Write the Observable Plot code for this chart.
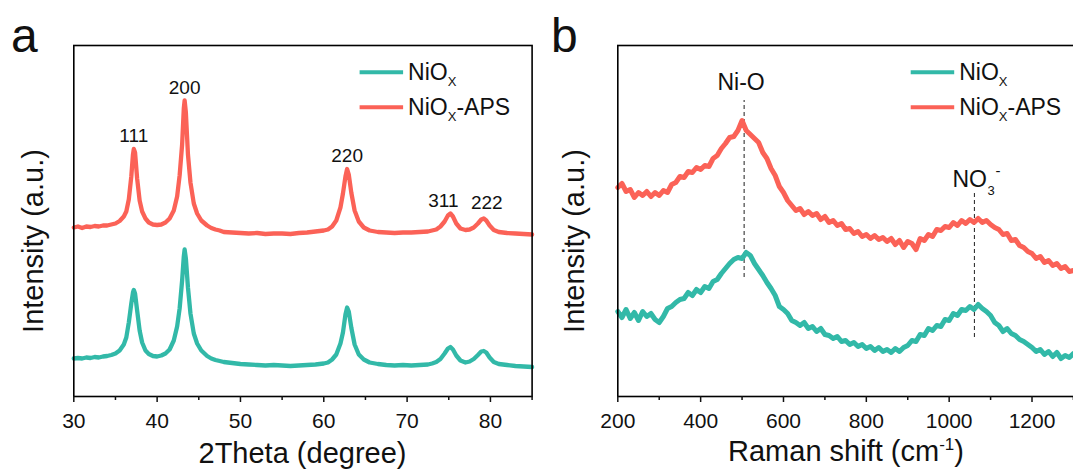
<!DOCTYPE html>
<html>
<head>
<meta charset="utf-8">
<script src="https://cdn.jsdelivr.net/npm/d3@7"></script>
<script src="https://cdn.jsdelivr.net/npm/@observablehq/plot@0.6"></script>
<style>
  body { margin: 0; background: #fff; overflow: hidden; }
  #fig { position: relative; width: 1073px; height: 473px; overflow: hidden; background: #fff; }
  .panel { position: absolute; top: 0; width: 540px; height: 473px; }
  .panel svg { display: block; overflow: visible; }
</style>
</head>
<body>
<div id="fig">
  <div class="panel" id="panelA" style="left:0"></div>
  <div class="panel" id="panelB" style="left:540px"></div>
</div>
<script>
// ---------- XRD (panel a) ----------
const xrdTheta = [
  30, 30.5, 31, 31.5, 32, 32.5, 33, 33.5, 34, 34.5,
  35, 35.5, 36, 36.3, 36.6, 36.9, 37.1, 37.2, 37.35, 37.6,
  37.9, 38.2, 38.6, 39, 39.5, 40, 40.5, 41, 41.5, 42,
  42.4, 42.7, 43, 43.2, 43.3, 43.45, 43.7, 44, 44.4, 44.8,
  45.3, 46, 46.5, 47, 47.5, 48, 49, 50, 51, 52,
  53, 54, 55, 56, 57, 58, 59, 60, 60.5, 61,
  61.5, 62, 62.3, 62.6, 62.8, 63, 63.3, 63.7, 64.2, 64.8,
  65.5, 66.5, 67.5, 68.5, 69.5, 70.5, 71.5, 72.5, 73, 73.5,
  74, 74.5, 74.9, 75.2, 75.5, 75.9, 76.4, 77, 77.5, 78,
  78.5, 78.9, 79.2, 79.5, 79.9, 80.4, 81, 82, 83, 84,
  85
];
const xrdAPS = [
  169, 170, 168.5, 170, 169.5, 170.5, 170, 171, 171, 172,
  173, 175.5, 180, 185, 197, 220, 242, 247.5, 244, 218,
  196, 185, 178, 174, 172, 171.5, 172, 174, 178, 186,
  200, 221, 252, 288, 296, 284, 242, 214, 193, 183,
  176, 171, 168.5, 167, 166, 164.5, 164, 163.5, 163, 163.5,
  162.5, 163, 163, 162.5, 163.5, 164, 165, 166, 167, 170,
  176, 189, 203, 220, 227.5, 222, 204, 186, 175, 169,
  166, 164.5, 164, 163.5, 164, 164, 164.5, 165, 166, 167,
  170, 175, 181, 183, 180, 173, 168, 166.5, 167, 169,
  173, 177, 178, 176, 171, 166.5, 164.5, 163.5, 163, 162.5,
  162
];
const xrdNiOx = [
  38, 38.5, 38, 39, 38.5, 39.5, 39, 40, 40.5, 41.5,
  43, 46, 52, 59, 74, 93, 104, 106.5, 103, 86,
  66, 54, 46, 42.5, 40.5, 40, 41, 43, 47, 56,
  70, 88, 116, 140, 147, 138, 109, 83, 63, 53,
  46, 40.5, 38, 36.5, 35.5, 34.5, 33.5, 32.5, 32, 31.5,
  31, 31.5, 31, 30.5, 31, 31.5, 32, 33, 34, 37,
  42, 53, 64, 82, 89, 85, 69, 52, 42, 37,
  34, 32.5, 31.5, 31, 31.5, 31, 31.5, 32, 33, 34.5,
  37.5, 43, 48, 49.5, 47, 41, 36, 34, 35, 37.5,
  41.5, 45, 45.5, 44, 39, 34.5, 32.5, 31.5, 30.5, 30,
  29.5
];
const xrdPeakHkl = ["111", "200", "220", "311", "222"];
const xrdPeakTheta = [37.2, 43.3, 62.8, 75.2, 79.2];
const xrdPeakTop = [247.5, 296, 227.5, 183, 178];
const xrdMajorTicks = [30, 40, 50, 60, 70, 80];
const xrdMinorTicks = [35, 45, 55, 65, 75, 85];

// ---------- Raman (panel b) ----------
const ramanShift = [
  200, 210, 220, 230, 240, 250, 260, 270, 280, 290,
  300, 310, 320, 330, 340, 350, 360, 370, 380, 390,
  400, 410, 420, 430, 440, 450, 460, 470, 480, 490,
  500, 510, 520, 530, 540, 550, 560, 570, 580, 590,
  600, 610, 620, 630, 640, 650, 660, 670, 680, 690,
  700, 710, 720, 730, 740, 750, 760, 770, 780, 790,
  800, 810, 820, 830, 840, 850, 860, 870, 880, 890,
  900, 910, 920, 930, 940, 950, 960, 970, 980, 990,
  1000, 1010, 1020, 1030, 1040, 1050, 1060, 1070, 1080, 1090,
  1100, 1110, 1120, 1130, 1140, 1150, 1160, 1170, 1180, 1190,
  1200, 1210, 1220, 1230, 1240, 1250, 1260, 1270, 1280, 1290,
  1300
];
const ramanAPS = [
  209, 213, 205, 207, 199, 204, 201, 205, 200, 204,
  201, 206, 204, 212, 214, 220, 219, 225, 224, 229,
  227, 231, 230, 238, 241, 248, 253, 259, 260, 266,
  276, 266, 262, 258, 254, 244, 238, 228, 221, 210,
  204, 196, 191, 186, 188, 182, 185, 181, 183, 177,
  180, 174, 176, 171, 173, 167, 168, 163, 165, 160,
  162, 158, 161, 157, 159, 155, 158, 152, 156, 149,
  155, 153, 147, 158, 156, 162, 160, 167, 166, 170,
  169, 174, 171, 176, 173, 177, 174, 178, 174, 176,
  172, 169, 167, 162, 163, 156, 157, 151, 149, 145,
  143, 138, 140, 134, 136, 131, 133, 128, 130, 125,
  126
];
const ramanNiOx = [
  85, 79, 87, 78, 84, 76, 85, 80, 83, 77,
  74, 80, 88, 90, 94, 97, 98, 104, 101, 107,
  104, 110, 108, 115, 117, 123, 128, 133, 137, 139,
  138, 144, 141, 133, 127, 121, 114, 108, 101, 90,
  87, 83, 76, 74, 71, 74, 68, 70, 65, 68,
  62, 61, 58, 60, 55, 56, 52, 54, 50, 52,
  48, 50, 46, 49, 45, 47, 44, 48, 45, 49,
  51, 56, 55, 62, 61, 68, 66, 71, 70, 77,
  76, 83, 81, 87, 86, 90, 87, 92, 88, 85,
  81, 74, 71, 65, 68, 63, 61, 57, 55, 52,
  49, 45, 47, 42, 45, 40, 44, 38, 41, 39,
  43
];
const ramanBandShift = [505, 1061];
const ramanBandTop = [296, 204];
const ramanBandBottom = [119, 59];
const ramanMajorTicks = [200, 400, 600, 800, 1000, 1200];
const ramanMinorTicks = [300, 500, 700, 900, 1100, 1300];

// ---------- styling ----------
const FONT = '"Liberation Sans", Arial, Helvetica, sans-serif';
const CYAN = "#32b9a8";
const RED = "#fb6257";
const INK = "#111";

const xrd = xrdTheta.map((t, i) => ({theta: t, niox: xrdNiOx[i], aps: xrdAPS[i]}));
const xrdPeaks = xrdPeakHkl.map((h, i) => ({hkl: h, theta: xrdPeakTheta[i], top: xrdPeakTop[i]}));
const raman = ramanShift.map((s, i) => ({shift: s, niox: ramanNiOx[i], aps: ramanAPS[i]}));
const bands = ramanBandShift.map((s, i) => ({shift: s, top: ramanBandTop[i], bottom: ramanBandBottom[i]}));

const svgStyle = {fontFamily: FONT, color: INK, background: "transparent", overflow: "visible"};
const fmt = d => `${d}`;

const plotA = Plot.plot({
  width: 540, height: 473,
  marginLeft: 73.3, marginRight: 8.4, marginTop: 45, marginBottom: 77,
  style: svgStyle,
  x: {domain: [30, 85], label: null},
  y: {domain: [0, 351], axis: null},
  marks: [
    Plot.line(xrd, {x: "theta", y: "aps", stroke: RED, strokeWidth: 4.3}),
    Plot.line(xrd, {x: "theta", y: "niox", stroke: CYAN, strokeWidth: 4.3}),
    Plot.text(xrdPeaks, {filter: d => d.hkl !== "311" && d.hkl !== "222", x: "theta", y: "top", text: "hkl", dy: -13, fontSize: 19, fill: INK}),
    Plot.text(xrdPeaks, {filter: d => d.hkl === "311", x: "theta", y: "top", text: "hkl", dx: -7, dy: -13, fontSize: 19, fill: INK}),
    Plot.text(xrdPeaks, {filter: d => d.hkl === "222", x: "theta", y: "top", text: "hkl", dx: 3, dy: -16, fontSize: 19, fill: INK}),
    Plot.frame({stroke: "#000", strokeWidth: 1.6}),
    Plot.axisX(xrdMajorTicks, {tickSize: 6, tickPadding: 11, tickFormat: fmt, fontSize: 21, strokeWidth: 1.5, label: null}),
    Plot.axisX(xrdMinorTicks, {tickSize: 4, tickFormat: () => "", strokeWidth: 1.5, label: null})
  ]
});

const plotB = Plot.plot({
  width: 540, height: 473,
  marginLeft: 77.3, marginRight: 5, marginTop: 45, marginBottom: 77,
  style: svgStyle,
  x: {domain: [200, 1305], label: null},
  y: {domain: [0, 351], axis: null},
  marks: [
    Plot.ruleX(bands, {x: "shift", y1: "bottom", y2: "top", stroke: "#333", strokeWidth: 1.1, strokeDasharray: "4,3"}),
    Plot.line(raman, {x: "shift", y: "aps", stroke: RED, strokeWidth: 5}),
    Plot.line(raman, {x: "shift", y: "niox", stroke: CYAN, strokeWidth: 5}),
    Plot.text(bands.slice(0, 1), {x: "shift", y: "top", text: () => "Ni-O", dx: -3, dy: -18, fontSize: 23, fill: INK}),
    Plot.text(bands.slice(1), {x: "shift", y: "top", text: () => "NO", textAnchor: "start", dx: -22, dy: -13, fontSize: 23, fill: INK}),
    Plot.text(bands.slice(1), {x: "shift", y: "top", text: () => "3", textAnchor: "start", dx: 13, dy: -2, fontSize: 13, fill: INK}),
    Plot.text(bands.slice(1), {x: "shift", y: "top", text: () => "-", textAnchor: "start", dx: 21, dy: -21, fontSize: 15, fill: INK}),
    Plot.frame({stroke: "#000", strokeWidth: 1.6}),
    Plot.axisX(ramanMajorTicks, {tickSize: 6, tickPadding: 11, tickFormat: fmt, fontSize: 21, strokeWidth: 1.5, label: null}),
    Plot.axisX(ramanMinorTicks, {tickSize: 4, tickFormat: () => "", strokeWidth: 1.5, label: null})
  ]
});

document.getElementById("panelA").append(plotA);
document.getElementById("panelB").append(plotB);

// Text built from styled runs (sub/superscripts) inside a panel
function richText(svg, x, y, runs, size, anchor = "start", rotate = 0) {
  const t = d3.select(svg).append("text")
    .attr("transform", `translate(${x},${y}) rotate(${rotate})`)
    .attr("text-anchor", anchor)
    .attr("font-family", FONT)
    .attr("font-size", size)
    .attr("fill", INK);
  let shift = 0;
  for (const r of runs) {
    const off = r.shift || 0;
    t.append("tspan").attr("dy", off - shift).attr("font-size", r.size || size).text(r.text);
    shift = off;
  }
  return t;
}

const seriesNames = [
  {color: CYAN, runs: [{text: "NiO"}, {text: "X", size: 13, shift: 6}]},
  {color: RED, runs: [{text: "NiO"}, {text: "X", size: 13, shift: 6}, {text: "-APS", shift: 0}]}
];

function legend(svg, x0) {
  seriesNames.forEach((s, i) => {
    const y = 72.3 + i * 35;
    d3.select(svg).append("line")
      .attr("x1", x0).attr("x2", x0 + 43.5).attr("y1", y).attr("y2", y)
      .attr("stroke", s.color).attr("stroke-width", 4);
    richText(svg, x0 + 48.5, y + 8, s.runs, 23);
  });
}
legend(plotA, 359.6);
legend(plotB, 370.7);

// axis titles
richText(plotA, 302.5, 463, [{text: "2Theta (degree)"}], 29, "middle");
richText(plotB, 306, 461, [{text: "Raman shift (cm"}, {text: "-1", size: 17, shift: -11}, {text: ")", shift: 0}], 29, "middle");
richText(plotA, 43, 241, [{text: "Intensity (a.u.)"}], 29, "middle", -90);
richText(plotB, 44, 241, [{text: "Intensity (a.u.)"}], 29, "middle", -90);

// panel letters
richText(plotA, 11, 51.5, [{text: "a"}], 48);
richText(plotB, 11, 51.5, [{text: "b"}], 48);
</script>
</body>
</html>
